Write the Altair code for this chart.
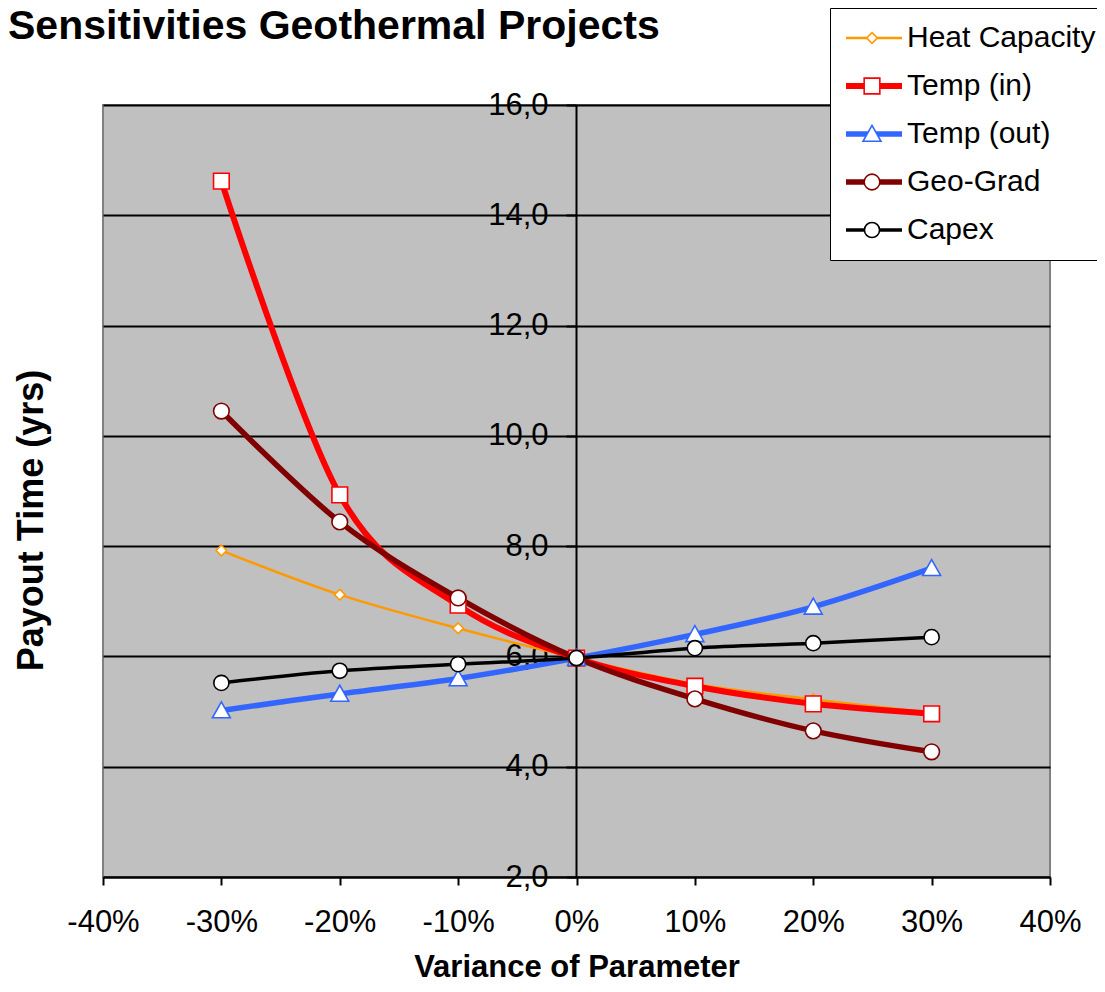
import altair as alt
import pandas as pd

# ---- data ----
variance = [-30, -20, -10, 0, 10, 20, 30]
series_names = ["Heat Capacity", "Temp (in)", "Temp (out)", "Geo-Grad", "Capex"]
heat_capacity = [7.92, 7.12, 6.51, 5.97, 5.50, 5.22, 4.98]
temp_in = [14.62, 8.93, 6.93, 5.97, 5.46, 5.14, 4.96]
temp_out = [5.02, 5.32, 5.60, 5.97, 6.40, 6.90, 7.60]
geo_grad = [10.45, 8.44, 7.06, 5.97, 5.23, 4.65, 4.27]
capex = [5.52, 5.74, 5.86, 5.97, 6.15, 6.24, 6.35]

x_ticks = [-40, -30, -20, -10, 0, 10, 20, 30, 40]
y_ticks = [2, 4, 6, 8, 10, 12, 14, 16]

# ---- styles ----
colors = ["#FF9900", "#FF0000", "#3366FF", "#800000", "#000000"]
line_widths = [2.5, 6.0, 5.5, 5.5, 3.5]
marker_paths = [
    "M0,-0.19L0.19,0L0,0.19L-0.19,0Z",
    "M-0.28,-0.28H0.28V0.28H-0.28Z",
    "M0,-0.31L0.32,0.26H-0.32Z",
    "M0.28,0A0.28,0.28,0,1,1,-0.28,0A0.28,0.28,0,1,1,0.28,0Z",
    "M0.27,0A0.27,0.27,0,1,1,-0.27,0A0.27,0.27,0,1,1,0.27,0Z",
]
SYM = 3136
FONT = "Liberation Sans"

# marker layer uses its own category labels (legend labels of that layer are hidden)
marker_names = ["m:" + n for n in series_names]

rows = []
for name, mname, vals in zip(series_names, marker_names,
                             [heat_capacity, temp_in, temp_out, geo_grad, capex]):
    for x, v in zip(variance, vals):
        rows.append({"series": name, "marker_series": mname, "variance": x, "payout": v})
df = pd.DataFrame(rows)

LEG_X = 727
LEG_Y = -97
LEG_PAD = 13

x_enc = alt.X(
    "variance:Q",
    scale=alt.Scale(domain=[-40, 40], nice=False, zero=False),
    axis=alt.Axis(
        values=x_ticks,
        labelExpr="datum.value + '%'",
        title="Variance of Parameter",
        grid=False,
        labelFlush=False,
        labelOverlap=False,
        labelFont=FONT,
        labelFontSize=31,
        labelColor="black",
        labelPadding=22,
        tickSize=8,
        tickWidth=2,
        tickColor="black",
        domainColor="black",
        domainWidth=2,
        titleFont=FONT,
        titleFontSize=31,
        titleFontWeight="bold",
        titleColor="black",
        titleY=99,
        titleBaseline="alphabetic",
    ),
)
y_enc = alt.Y(
    "payout:Q",
    scale=alt.Scale(domain=[2, 16], nice=False, zero=False),
    axis=alt.Axis(
        values=y_ticks,
        labelExpr="replace(format(datum.value, '.1f'), '.', ',')",
        offset=-473,
        grid=True,
        gridColor="black",
        gridWidth=2,
        labelOverlap=False,
        labelFont=FONT,
        labelFontSize=31,
        labelColor="black",
        labelPadding=18,
        tickSize=10,
        tickWidth=2,
        tickColor="black",
        domainColor="black",
        domainWidth=2,
        title="Payout Time (yrs)",
        titleFont=FONT,
        titleFontSize=36,
        titleFontWeight="bold",
        titleColor="black",
        titleX=-545,
        titleY=415,
        titleAlign="center",
        titleBaseline="middle",
    ),
)

leg_lines = alt.Legend(
    title=None,
    orient="none",
    legendX=LEG_X,
    legendY=LEG_Y,
    symbolType="stroke",
    symbolSize=SYM,
    labelFont=FONT,
    labelFontSize=30,
    labelColor="black",
    labelLimit=400,
    labelOffset=2,
    fillColor="white",
    strokeColor="black",
    padding=LEG_PAD,
    rowPadding=14,
    clipHeight=34,
)
leg_points = alt.Legend(
    title=None,
    orient="none",
    legendX=LEG_X,
    legendY=LEG_Y,
    symbolSize=SYM,
    symbolStrokeWidth=1.6,
    symbolFillColor="white",
    labelFont=FONT,
    labelFontSize=30,
    labelLimit=400,
    labelOpacity=0,
    labelOffset=2,
    padding=LEG_PAD,
    rowPadding=14,
    clipHeight=34,
)

lines = alt.Chart(df).mark_line(interpolate="cardinal").encode(
    x=x_enc,
    y=y_enc,
    color=alt.Color("series:N", scale=alt.Scale(domain=series_names, range=colors), legend=leg_lines),
    strokeWidth=alt.StrokeWidth(
        "series:N",
        scale=alt.Scale(type="ordinal", domain=series_names, range=line_widths),
        legend=leg_lines,
    ),
)

points = alt.Chart(df).mark_point(
    filled=True, fill="white", size=SYM, strokeWidth=1.6, opacity=1
).encode(
    x=x_enc,
    y=y_enc,
    shape=alt.Shape("marker_series:N", scale=alt.Scale(domain=marker_names, range=marker_paths), legend=leg_points),
    stroke=alt.Stroke("marker_series:N", scale=alt.Scale(domain=marker_names, range=colors), legend=leg_points),
)

chart = (
    alt.layer(lines, points)
    .properties(
        width=947,
        height=772,
        autosize=alt.AutoSizeParams(type="none"),
        padding={"left": 95, "top": 97, "right": 47, "bottom": 102},
        title=alt.TitleParams(
            "Sensitivities Geothermal Projects",
            anchor="start",
            frame="group",
            font=FONT,
            fontSize=41,
            fontWeight="bold",
            color="black",
            dx=-95,
            offset=0,
            dy=40,
        ),
    )
    .configure_view(fill="#C0C0C0", stroke="#808080", strokeWidth=2)
)

chart.save("out.html", embed_options={"renderer": "svg", "actions": False})
